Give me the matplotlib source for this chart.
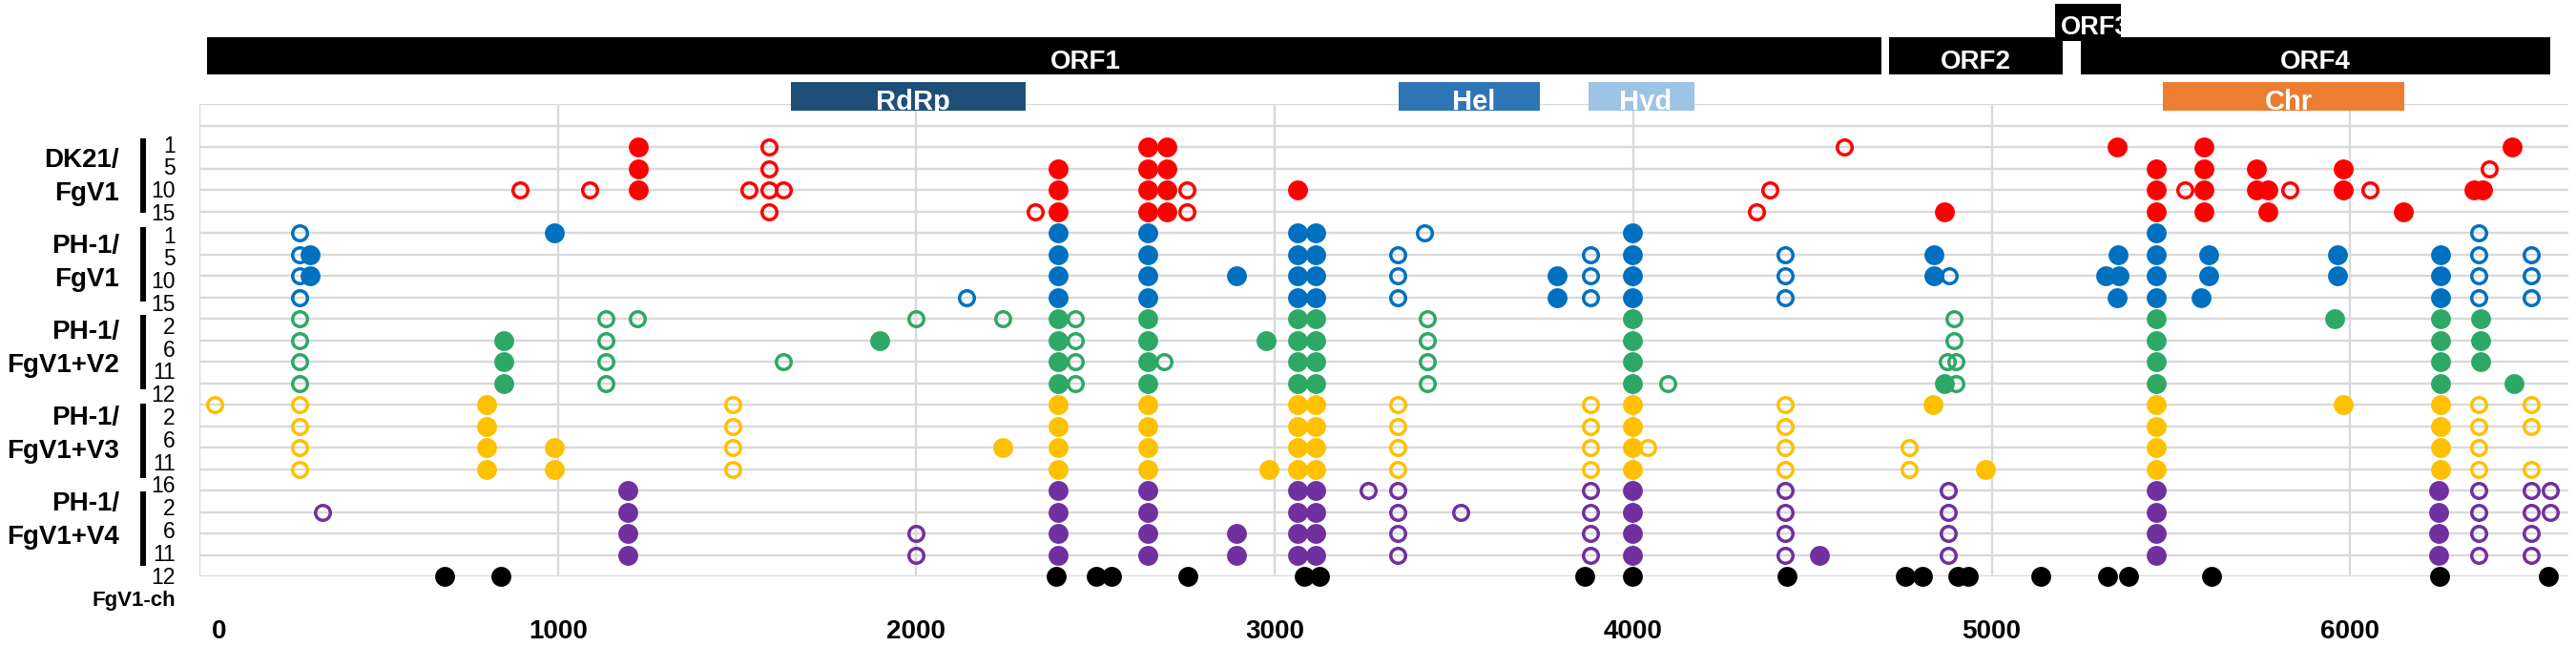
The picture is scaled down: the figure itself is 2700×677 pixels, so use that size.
import matplotlib
matplotlib.use("Agg")
import matplotlib.pyplot as plt
from matplotlib.patches import Rectangle
from matplotlib.transforms import blended_transform_factory

# ---------------- data ----------------
group_names = ["DK21/\nFgV1", "PH-1/\nFgV1", "PH-1/\nFgV1+V2", "PH-1/\nFgV1+V3", "PH-1/\nFgV1+V4"]
row_labels = ["1", "5", "10", "15", "1", "5", "10", "15", "2", "6", "11", "12",
              "2", "6", "11", "16", "2", "6", "11", "12"]
group_colors = ["#FF0000", "#0070C0", "#2EA866", "#FFC000", "#7030A0"]

dk21_filled = [
    [1224, 2645, 2698, 5349, 5593, 6451],
    [1224, 2396, 2645, 2698, 5459, 5593, 5738, 5981],
    [1224, 2396, 2645, 2698, 3064, 5459, 5593, 5738, 5771, 5981, 6345, 6370],
    [2396, 2645, 2698, 4868, 5459, 5593, 5771, 6148],
]
dk21_open = [
    [1589, 4590],
    [1589, 6389],
    [893, 1089, 1533, 1589, 1629, 2756, 4381, 5539, 5833, 6056],
    [1589, 2332, 2756, 4344],
]
ph1_filled = [
    [991, 2396, 2645, 3064, 3113, 3998, 5459],
    [309, 2396, 2645, 3064, 3113, 3998, 4838, 5353, 5459, 5605, 5964, 6252],
    [309, 2396, 2645, 2893, 3064, 3113, 3788, 3998, 4838, 5317, 5355, 5459, 5605, 5964, 6252],
    [2396, 2645, 3064, 3113, 3788, 3998, 5349, 5459, 5584, 6252],
]
ph1_open = [
    [279, 3417, 6359],
    [279, 3342, 3882, 4425, 6359, 6504],
    [279, 3342, 3882, 4425, 4882, 6359, 6504],
    [279, 2140, 3342, 3882, 4425, 6359, 6504],
]
v2_filled = [
    [2396, 2645, 3064, 3113, 3998, 5459, 5958, 6252, 6365],
    [849, 1898, 2396, 2645, 2975, 3064, 3113, 3998, 5459, 6252, 6365],
    [849, 2396, 2645, 3064, 3113, 3998, 5459, 6252, 6365],
    [849, 2396, 2645, 3064, 3113, 3998, 4868, 5459, 6252, 6457],
]
v2_open = [
    [279, 1133, 1222, 1999, 2241, 2443, 3426, 4894],
    [279, 1133, 2443, 3426, 4894],
    [279, 1133, 1629, 2443, 2691, 3426, 4876, 4900],
    [279, 1133, 2443, 3426, 4097, 4900],
]
v3_filled = [
    [802, 2396, 2645, 3064, 3113, 3998, 4836, 5459, 5981, 6252],
    [802, 2396, 2645, 3064, 3113, 3998, 5459, 6252],
    [802, 991, 2241, 2396, 2645, 3064, 3113, 3998, 5459, 6252],
    [802, 991, 2396, 2645, 2984, 3064, 3113, 3998, 4984, 5459, 6252],
]
v3_open = [
    [43, 279, 1488, 3342, 3882, 4425, 6359, 6504],
    [279, 1488, 3342, 3882, 4425, 6359, 6504],
    [279, 1488, 3342, 3882, 4040, 4425, 4770, 6359],
    [279, 1488, 3342, 3882, 4425, 4770, 6359, 6504],
]
v4_filled = [
    [1194, 2396, 2645, 3064, 3113, 3998, 5459, 6246],
    [1194, 2396, 2645, 3064, 3113, 3998, 5459, 6246],
    [1194, 2396, 2645, 2893, 3064, 3113, 3998, 5459, 6246],
    [1194, 2396, 2645, 2893, 3064, 3113, 3998, 4519, 5459, 6246],
]
v4_open = [
    [3260, 3342, 3882, 4425, 4880, 6359, 6504, 6558],
    [344, 3342, 3519, 3882, 4425, 4880, 6359, 6504, 6558],
    [1999, 3342, 3882, 4425, 4880, 6359, 6504],
    [1999, 3342, 3882, 4425, 4880, 6359, 6504],
]
chimera_label = "FgV1-ch"
chimera_filled = [684, 842, 2390, 2503, 2545, 2758, 3083, 3126, 3865, 3998, 4430,
                  4758, 4807, 4905, 4935, 5138, 5323, 5381, 5614, 6250, 6552]

orf_names = ["ORF1", "ORF2", "ORF4"]
orf_start = [21, 4714, 5249]
orf_end = [4692, 5197, 6558]
orf3_name = "ORF3"
orf3_start, orf3_end = 5177, 5361

domain_names = ["RdRp", "Hel", "Hyd", "Chr"]
domain_start = [1649, 3346, 3875, 5479]
domain_end = [2306, 3739, 4170, 6152]
domain_colors = ["#1F4E79", "#2E75B6", "#9DC3E6", "#ED7D31"]

xtick_values = [0, 1000, 2000, 3000, 4000, 5000, 6000]

# ---------------- layout ----------------
W, H = 2700, 677
plt.rcParams["font.family"] = ["Liberation Sans", "DejaVu Sans"]
fig = plt.figure(figsize=(W / 100, H / 100), dpi=100)
fig.patch.set_facecolor("white")


def fx(px):
    return px / W


def fy(py):
    return 1 - py / H


XMAX = 6610
PX_PER_UNIT = 0.3757
ax_left_px, ax_top_px, ax_bot_px = 209, 109, 604
ax_right_px = ax_left_px + XMAX * PX_PER_UNIT
ax = fig.add_axes([fx(ax_left_px), fy(ax_bot_px), fx(ax_right_px) - fx(ax_left_px),
                   (ax_bot_px - ax_top_px) / H])
ax.set_xlim(0, XMAX)
ax.set_ylim(22, 0)
for s in ax.spines.values():
    s.set_visible(False)
ax.set_xticks([])
ax.set_yticks([])

grid_c = "#D9D9D9"
for y in range(0, 23):
    ax.axhline(y, color=grid_c, lw=1.7, zorder=1)
for x in xtick_values:
    ax.axvline(x, color=grid_c, lw=1.7, zorder=1)

FILLED_MS = 15
OPEN_MS = 11.2
OPEN_MEW = 2.5

all_filled = [dk21_filled, ph1_filled, v2_filled, v3_filled, v4_filled]
all_open = [dk21_open, ph1_open, v2_open, v3_open, v4_open]
for g, (fl, op) in enumerate(zip(all_filled, all_open)):
    c = group_colors[g]
    for r in range(4):
        yrow = 2 + g * 4 + r
        ax.plot(fl[r], [yrow] * len(fl[r]), ls="none", marker="o", ms=FILLED_MS,
                mfc=c, mec=c, mew=0, zorder=3, clip_on=False)
        ax.plot(op[r], [yrow] * len(op[r]), ls="none", marker="o", ms=OPEN_MS,
                mfc="none", mec=c, mew=OPEN_MEW, zorder=4, clip_on=False)
ax.plot(chimera_filled, [22] * len(chimera_filled), ls="none", marker="o", ms=FILLED_MS,
        mfc="black", mec="black", mew=0, zorder=3, clip_on=False)

# x tick labels
tr = blended_transform_factory(ax.transData, fig.transFigure)
for v in xtick_values:
    xpos = v + (56 if v == 0 else 0)
    ax.text(xpos, fy(662), f"{v}", transform=tr, ha="center", va="center",
            fontsize=20, fontweight="bold", color="black", clip_on=False)

# ---------------- left labels ----------------
for k, lab in enumerate(row_labels):
    fig.text(fx(184), fy(153 + k * 23.79), lab, ha="right", va="center", fontsize=16.5)
fig.text(fx(184), fy(630), chimera_label, ha="right", va="center", fontsize=16,
         fontweight="bold")
for g, name in enumerate(group_names):
    l1, l2 = name.split("\n")
    fig.text(fx(125), fy(168 + 90 * g), l1, ha="right", va="center", fontsize=20,
             fontweight="bold")
    fig.text(fx(125), fy(203 + 90 * g), l2, ha="right", va="center", fontsize=20,
             fontweight="bold")
    top = 145 + 92.5 * g
    fig.patches.append(Rectangle((fx(147), fy(top + 78)), fx(6), 78 / H,
                                 transform=fig.transFigure, facecolor="black",
                                 edgecolor="none"))

# ---------------- genome map ----------------
top_h = 125
axt = fig.add_axes([fx(ax_left_px), fy(top_h), fx(ax_right_px) - fx(ax_left_px), top_h / H])
axt.set_xlim(0, XMAX)
axt.set_ylim(top_h, 0)
axt.axis("off")
axt.set_zorder(5)
axt.patch.set_alpha(0)

for name, s, e in zip(orf_names, orf_start, orf_end):
    axt.add_patch(Rectangle((s, 39), e - s, 39, facecolor="black", edgecolor="none"))
    cx = (s + e) / 2 + (117 if name == "ORF1" else 0)
    axt.text(cx, 72.5, name, ha="center", va="baseline", color="white", fontsize=20,
             fontweight="bold")
r3 = Rectangle((orf3_start, 4), orf3_end - orf3_start, 39, facecolor="black",
               edgecolor="none")
axt.add_patch(r3)
t3 = axt.text(orf3_start + 16, 36, orf3_name, ha="left", va="baseline", color="white",
              fontsize=19.5, fontweight="bold")
t3.set_clip_path(r3)

for name, s, e, c in zip(domain_names, domain_start, domain_end, domain_colors):
    rp = Rectangle((s, 86), e - s, 30, facecolor=c, edgecolor="none")
    axt.add_patch(rp)
    axt.text((s + e) / 2 + 12, 115, name, ha="center", va="baseline", color="white",
             fontsize=21, fontweight="bold")

fig.savefig("out.png", dpi=100, facecolor="white")
